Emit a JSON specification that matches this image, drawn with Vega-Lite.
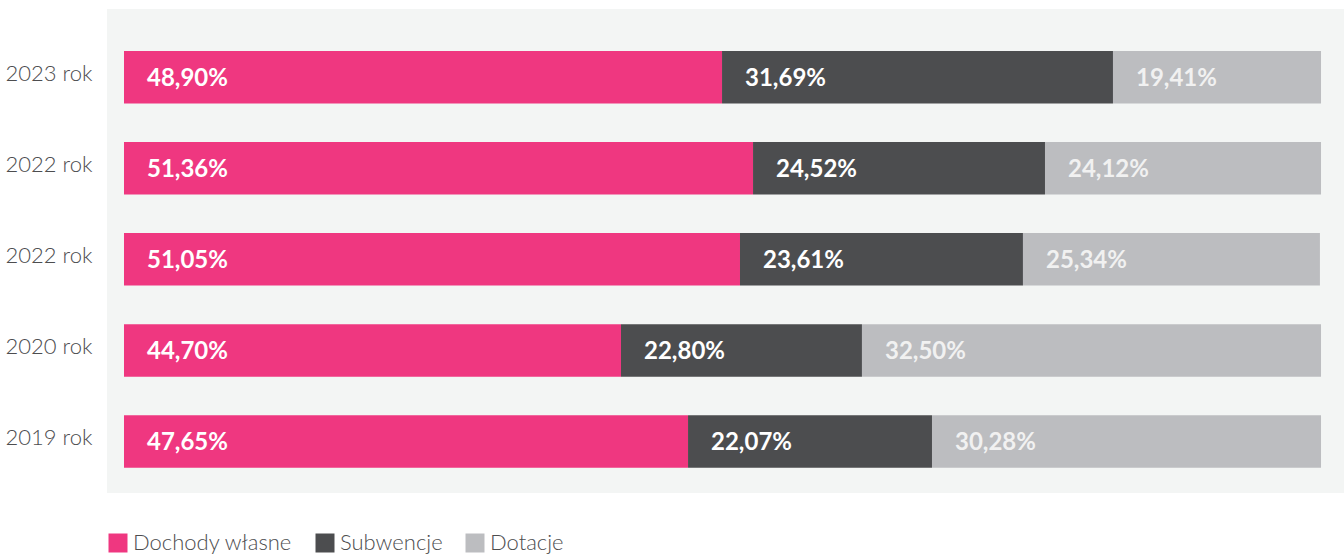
{
  "$schema": "https://vega.github.io/schema/vega-lite/v6.json",
  "width": 1237,
  "height": 484,
  "autosize": {"type": "none"},
  "padding": {"left": 107, "top": 9, "right": 0, "bottom": 66},
  "background": "#ffffff",
  "view": {"fill": "#f3f5f4", "stroke": null},
  "data": {
    "values": [
      {"rok": "2023 rok", "kategoria": "Dochody własne", "nr": 1, "dlugosc": 49.96, "etykieta": "48,90%"},
      {"rok": "2023 rok", "kategoria": "Subwencje", "nr": 2, "dlugosc": 32.66, "etykieta": "31,69%"},
      {"rok": "2023 rok", "kategoria": "Dotacje", "nr": 3, "dlugosc": 17.38, "etykieta": "19,41%"},
      {"rok": "2022 rok", "kategoria": "Dochody własne", "nr": 1, "dlugosc": 52.55, "etykieta": "51,36%"},
      {"rok": "2022 rok", "kategoria": "Subwencje", "nr": 2, "dlugosc": 24.39, "etykieta": "24,52%"},
      {"rok": "2022 rok", "kategoria": "Dotacje", "nr": 3, "dlugosc": 23.06, "etykieta": "24,12%"},
      {"rok": "2022 rok#2", "kategoria": "Dochody własne", "nr": 1, "dlugosc": 51.46, "etykieta": "51,05%"},
      {"rok": "2022 rok#2", "kategoria": "Subwencje", "nr": 2, "dlugosc": 23.64, "etykieta": "23,61%"},
      {"rok": "2022 rok#2", "kategoria": "Dotacje", "nr": 3, "dlugosc": 24.81, "etykieta": "25,34%"},
      {"rok": "2020 rok", "kategoria": "Dochody własne", "nr": 1, "dlugosc": 41.52, "etykieta": "44,70%"},
      {"rok": "2020 rok", "kategoria": "Subwencje", "nr": 2, "dlugosc": 20.13, "etykieta": "22,80%"},
      {"rok": "2020 rok", "kategoria": "Dotacje", "nr": 3, "dlugosc": 38.35, "etykieta": "32,50%"},
      {"rok": "2019 rok", "kategoria": "Dochody własne", "nr": 1, "dlugosc": 47.12, "etykieta": "47,65%"},
      {"rok": "2019 rok", "kategoria": "Subwencje", "nr": 2, "dlugosc": 20.38, "etykieta": "22,07%"},
      {"rok": "2019 rok", "kategoria": "Dotacje", "nr": 3, "dlugosc": 32.5, "etykieta": "30,28%"}
    ]
  },
  "transform": [
    {"stack": "dlugosc", "groupby": ["rok"], "sort": [{"field": "nr", "order": "ascending"}], "as": ["x0", "x1"]}
  ],
  "encoding": {
    "y": {
      "field": "rok",
      "type": "nominal",
      "sort": null,
      "title": null,
      "scale": {"paddingInner": 0.4234, "paddingOuter": 0.3697, "align": 0.624},
      "axis": {
        "ticks": false,
        "domain": false,
        "labelPadding": 15,
        "labelOffset": -3,
        "labelExpr": "split(datum.value, '#')[0]",
        "labelFont": "Lato",
        "labelFontWeight": 300,
        "labelFontSize": 22,
        "labelColor": "#4d4d4f",
        "grid": false
      }
    }
  },
  "layer": [
    {
      "mark": {"type": "bar"},
      "encoding": {
        "x": {"field": "x0", "type": "quantitative", "scale": {"domain": [-1.42, 101.92], "nice": false, "zero": false}, "axis": null},
        "x2": {"field": "x1"},
        "color": {
          "field": "kategoria",
          "type": "nominal",
          "scale": {"domain": ["Dochody własne", "Subwencje", "Dotacje"], "range": ["#ef3780", "#4c4d4f", "#bcbdc0"]},
          "legend": {
            "title": null,
            "orient": "none",
            "direction": "horizontal",
            "legendX": 0,
            "legendY": 523,
            "symbolType": "square",
            "symbolSize": 361,
            "symbolStrokeWidth": 0,
            "symbolOpacity": 1,
            "labelFont": "Lato",
            "labelFontWeight": 300,
            "labelFontSize": 22,
            "labelColor": "#4d4d4f",
            "labelOffset": 4,
            "columnPadding": 21,
            "labelLimit": 400
          }
        }
      }
    },
    {
      "mark": {"type": "text", "align": "left", "baseline": "middle", "dx": 23, "dy": 2, "font": "Lato", "fontWeight": "bold", "fontSize": 24},
      "encoding": {
        "x": {"field": "x0", "type": "quantitative"},
        "text": {"field": "etykieta"},
        "color": {
          "condition": {"test": "datum.kategoria === 'Dotacje'", "value": "#f1f1f1"},
          "value": "#ffffff"
        }
      }
    }
  ]
}
